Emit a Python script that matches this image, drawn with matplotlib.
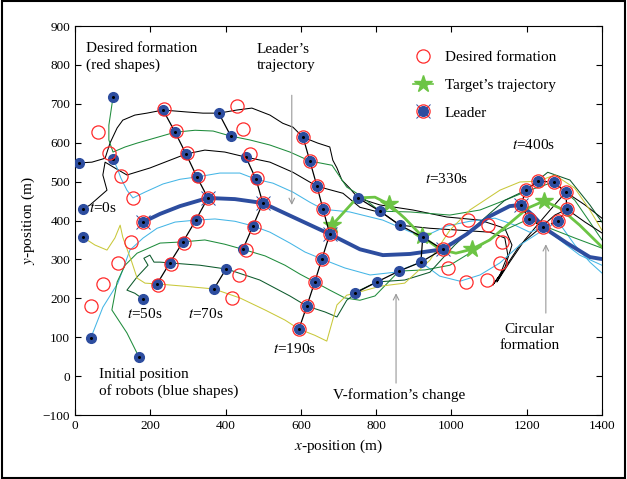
import matplotlib
matplotlib.use("Agg")
import matplotlib.pyplot as plt
from matplotlib.lines import Line2D
from matplotlib.patches import Rectangle

plt.rcParams["font.family"] = ["Liberation Serif", "DejaVu Serif"]
plt.rcParams["mathtext.fontset"] = "stix"

# ---------------------------------------------------------------------------
# Leader / target paths (m)
# ---------------------------------------------------------------------------
leader_x = [181, 226, 279, 353, 425, 499, 579, 677, 757, 818, 890, 977, 1041,
            1102, 1155, 1185, 1216, 1248, 1307, 1368, 1400]
leader_y = [396, 417, 437, 458, 455, 445, 409, 365, 326, 311, 314, 326, 365,
            411, 437, 440, 414, 380, 342, 306, 301]

target_x = [683, 749, 797, 834, 876, 922, 969, 1012, 1054, 1102, 1155, 1203,
            1246, 1288, 1341, 1400]
target_y = [388, 458, 460, 442, 406, 360, 326, 316, 326, 350, 393, 432, 450,
            432, 388, 332]
star_x = [683, 834, 922, 1054, 1246]
star_y = [388, 442, 360, 326, 450]

# ---------------------------------------------------------------------------
# Follower trajectories (8 robots)
# ---------------------------------------------------------------------------
r1_x = [11, 45, 80, 93, 112, 127, 159, 191, 234, 297, 340, 382, 430, 470, 518,
        552, 579, 606, 645, 677, 685, 696, 709, 730, 752, 810, 898, 988, 1076,
        1142, 1161, 1142, 1121, 1155, 1195, 1235, 1267, 1304, 1355, 1400]
r1_y = [548, 550, 560, 599, 638, 658, 671, 676, 684, 679, 676, 676, 684, 689,
        671, 650, 640, 614, 599, 589, 555, 535, 504, 483, 458, 440, 427, 409,
        401, 380, 337, 278, 242, 293, 350, 396, 432, 473, 440, 406]

r2_x = [101, 96, 90, 90, 101, 133, 165, 212, 266, 319, 367, 414, 465, 518, 571,
        624, 683, 704, 722, 757, 810, 890, 996, 1076, 1142, 1208, 1272, 1328,
        1368, 1400]
r2_y = [717, 684, 645, 607, 576, 589, 599, 612, 627, 632, 630, 617, 607, 594,
        576, 553, 542, 512, 486, 465, 424, 422, 414, 427, 452, 478, 499, 452,
        396, 350]

r3_x = [21, 40, 85, 74, 80, 106, 138, 199, 295, 345, 398, 454, 518, 579, 643,
        712, 757, 818, 863, 943, 1023, 1102, 1142, 1150, 1129, 1110, 1142, 1182,
        1235, 1275, 1307, 1355, 1400]
r3_y = [429, 440, 478, 517, 550, 535, 517, 535, 571, 581, 576, 563, 550, 524,
        488, 470, 434, 419, 388, 380, 375, 370, 355, 311, 260, 234, 278, 337,
        380, 414, 429, 396, 368]

r4_x = [101, 112, 122, 138, 154, 186, 234, 279, 324, 385, 438, 481, 526, 579,
        624, 659, 730, 818, 924, 988, 1049, 1116, 1169, 1208, 1243, 1288, 1341,
        1400]
r4_y = [558, 535, 509, 478, 458, 473, 494, 506, 512, 522, 522, 506, 496, 473,
        447, 429, 422, 401, 357, 386, 398, 406, 388, 370, 383, 350, 311, 285]

r5_x = [42, 74, 114, 146, 181, 218, 266, 321, 372, 425, 473, 518, 571, 611, 656,
        717, 784, 850, 919, 969, 1023, 1076, 1129, 1182, 1235, 1283, 1328, 1368,
        1400]
r5_y = [98, 177, 239, 324, 355, 380, 396, 401, 404, 398, 386, 370, 342, 319,
        301, 278, 260, 267, 293, 257, 244, 260, 291, 337, 370, 398, 337, 293, 265]

r6_x = [170, 138, 98, 112, 133, 165, 226, 287, 345, 398, 446, 505, 558, 598,
        637, 677, 717, 757, 797, 861, 930, 996, 1062, 1129, 1206, 1262, 1328,
        1400]
r6_y = [49, 111, 170, 242, 285, 316, 342, 345, 350, 339, 326, 309, 285, 262,
        242, 221, 201, 195, 206, 270, 273, 285, 324, 370, 404, 380, 355, 329]

r7_x = [181, 159, 138, 165, 194, 183, 199, 210, 226, 252, 332, 404, 491, 571,
        616, 664, 696, 722, 757, 802, 876, 943, 1009, 1076, 1142, 1198, 1256,
        1315, 1368, 1400]
r7_y = [198, 213, 221, 255, 285, 303, 311, 293, 293, 291, 285, 275, 247, 206,
        180, 165, 152, 195, 221, 242, 247, 267, 337, 396, 452, 478, 524, 504,
        440, 396]

r8_x = [21, 53, 85, 106, 120, 127, 151, 165, 186, 218, 292, 369, 438, 505, 558,
        595, 637, 669, 696, 722, 744, 810, 876, 943, 996, 1049, 1129, 1182, 1230,
        1275, 1328, 1368, 1400]
r8_y = [357, 337, 324, 355, 388, 357, 293, 252, 239, 237, 231, 224, 201, 170,
        144, 121, 105, 90, 183, 208, 213, 231, 239, 298, 375, 427, 478, 499, 501,
        517, 483, 427, 375]

# ---------------------------------------------------------------------------
# Formation snapshots, order: R1 R2 R3 R4 Leader R5 R6 R7 R8
# ---------------------------------------------------------------------------
t0_x = [11, 101, 21, 101, 181, 42, 170, 181, 21]
t0_y = [548, 717, 429, 558, 396, 98, 49, 198, 357]
t0_des_x = [61, 90, 122, 154, 181, 149, 114, 74, 42]
t0_des_y = [627, 573, 514, 458, 396, 345, 291, 237, 180]

t50_x = [234, 266, 295, 324, 353, 321, 287, 252, 218]
t50_y = [684, 627, 571, 512, 458, 401, 345, 291, 237]
t50_des_x = [236, 268, 297, 327, 353, 323, 289, 254, 220]
t50_des_y = [686, 630, 573, 514, 458, 399, 343, 289, 235]

t70_x = [382, 414, 454, 481, 499, 473, 446, 401, 369]
t70_y = [676, 617, 563, 506, 445, 386, 326, 275, 224]
t70_des_x = [430, 446, 465, 483, 499, 475, 454, 436, 417]
t70_des_y = [694, 635, 571, 509, 445, 384, 324, 260, 201]

t190_x = [606, 624, 643, 659, 677, 656, 637, 616, 595]
t190_y = [614, 553, 488, 429, 365, 301, 242, 180, 121]

t330_x = [752, 810, 863, 924, 977, 919, 861, 802, 744]
t330_y = [458, 424, 388, 357, 326, 293, 270, 242, 213]
t330_des_x = [993, 1044, 1097, 1134, 977, 1129, 1094, 1038, 991]
t330_des_y = [375, 401, 388, 345, 326, 291, 247, 242, 278]

# circular formation (leader is index 7)
t400_x = [1230, 1272, 1304, 1307, 1283, 1243, 1206, 1185, 1198]
t400_y = [501, 499, 473, 429, 398, 383, 404, 440, 478]

BLUE = "#2d4d9f"
RED = "#ff2a2a"
TGREEN = "#6cc444"
GREEN = "#1f8c3c"
DGREEN = "#0d5a2c"
CYAN = "#45b6e6"
YELLOW = "#c9c83a"

fig = plt.figure(figsize=(6.27, 4.79), dpi=100)
ax = fig.add_axes([0.1196, 0.1336, 0.8404, 0.8121])

# follower trajectories
for xs, ys, c in [(r1_x, r1_y, "k"), (r2_x, r2_y, GREEN), (r3_x, r3_y, "k"),
                  (r4_x, r4_y, CYAN), (r5_x, r5_y, CYAN), (r6_x, r6_y, GREEN),
                  (r7_x, r7_y, DGREEN), (r8_x, r8_y, YELLOW)]:
    ax.plot(xs, ys, color=c, lw=0.75, zorder=2)

ax.plot(leader_x, leader_y, color=BLUE, lw=2.8, zorder=3,
        solid_capstyle="round")
ax.plot(target_x, target_y, color=TGREEN, lw=2.0, zorder=3.5)
ax.plot(star_x, star_y, ls="none", marker="*", ms=13, color=TGREEN, zorder=3.6)


def link(xs, ys, idx, **kw):
    ax.plot([xs[i] for i in idx], [ys[i] for i in idx], color="k", lw=0.9,
            zorder=4, **kw)


link(t50_x, t50_y, range(9))
link(t70_x, t70_y, [0, 1])
link(t70_x, t70_y, [2, 3, 4, 5, 6])
link(t70_x, t70_y, [7, 8])
link(t190_x, t190_y, range(9))
link(t330_x, t330_y, range(9))
link(t330_x, t330_y, [3, 5])
link(t400_x, t400_y, [0, 1, 2, 3, 4, 5, 6, 7, 8, 0], ls=(0, (3, 1.5)))

# desired formation (red circles)
for xs, ys in [(t0_des_x, t0_des_y), (t50_des_x, t50_des_y),
               (t70_des_x, t70_des_y), (t190_x, t190_y),
               (t330_des_x, t330_des_y), (t400_x, t400_y)]:
    ax.plot(xs, ys, ls="none", marker="o", ms=9.5, mfc="none", mec=RED,
            mew=0.9, zorder=6)

# robots (blue dots)
for xs, ys in [(t0_x, t0_y), (t50_x, t50_y), (t70_x, t70_y), (t190_x, t190_y),
               (t330_x, t330_y), (t400_x, t400_y)]:
    ax.plot(xs, ys, ls="none", marker="o", ms=7, color=BLUE, zorder=5)
    ax.plot(xs, ys, ls="none", marker="o", ms=1.2, color="k", zorder=5.5)

# leader markers
lead_x = [t0_x[4], t50_x[4], t70_x[4], t190_x[4], t330_x[4], t400_x[7]]
lead_y = [t0_y[4], t50_y[4], t70_y[4], t190_y[4], t330_y[4], t400_y[7]]
ax.plot(lead_x, lead_y, ls="none", marker="x", ms=10, mew=0.7, color=BLUE,
        zorder=4.8)

# annotations
arrow = dict(arrowstyle="->", color="0.6", lw=0.8, shrinkA=0, shrinkB=0)
ax.annotate("", xy=(576, 440), xytext=(576, 722), arrowprops=arrow)
ax.annotate("", xy=(1251, 339), xytext=(1251, 162), arrowprops=arrow)
ax.annotate("", xy=(853, 213), xytext=(853, -18), arrowprops=arrow)

fs = 11
ax.text(30, 820, "Desired formation\n(red shapes)", fontsize=fs, va="center",
        linespacing=1.3)
ax.text(483, 820, "Leader\u2019s\ntrajectory", fontsize=fs, va="center",
        linespacing=1.3)
ax.text(64, -18, "Initial position\nof robots (blue shapes)", fontsize=fs,
        va="center", linespacing=1.3)
ax.text(860, -49, "V-formation\u2019s change", fontsize=fs, ha="center",
        va="center")
ax.text(1208, 98, "Circular\nformation", fontsize=fs, ha="center",
        va="center", linespacing=1.3)
for tx, ty, s in [(37, 432, "0s"), (138, 159, "50s"), (300, 159, "70s"),
                  (526, 69, "190s"), (930, 506, "330s"), (1161, 594, "400s")]:
    ax.text(tx, ty, "$t$=" + s, fontsize=fs, va="center")

# legend
h_des = Line2D([], [], ls="none", marker="o", ms=9.5, mfc="none", mec=RED,
               mew=0.9)
h_tgt = Line2D([], [], color=TGREEN, lw=1.2, marker="*", ms=13)
h_lead = (Line2D([], [], ls="none", marker="x", ms=10, mew=0.7, color=BLUE),
          Line2D([], [], ls="none", marker="o", ms=7, color=BLUE),
          Line2D([], [], ls="none", marker="o", ms=9.5, mfc="none", mec=RED,
                 mew=0.9))
ax.legend([h_des, h_tgt, h_lead],
          ["Desired formation", "Target\u2019s trajectory", "Leader"],
          loc="upper left", bbox_to_anchor=(0.615, 0.972), frameon=False,
          fontsize=fs, handlelength=1.3, labelspacing=0.92, handletextpad=0.8)

ax.set_xlim(0, 1400)
ax.set_ylim(-100, 900)
ax.set_xticks(range(0, 1401, 200))
ax.set_yticks(range(-100, 901, 100))
ax.tick_params(direction="in", top=True, right=True, labelsize=9.5, length=4)
ax.set_xlabel("$x$-position (m)", fontsize=fs)
ax.set_ylabel("$y$-position (m)", fontsize=fs)

fig.patches.append(Rectangle((0.003, 0.003), 0.994, 0.994, fill=False,
                             lw=1.5, ec="k", transform=fig.transFigure))

fig.savefig("out.png", dpi=100)
